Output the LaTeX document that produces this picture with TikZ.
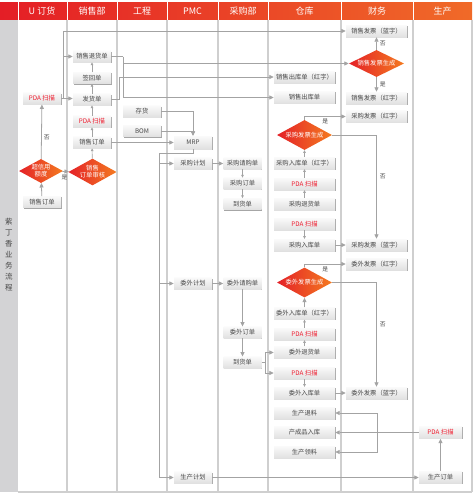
\documentclass[tikz,border=0pt]{standalone}
\usepackage{fontspec}
\newfontfamily\cjk{Noto Sans CJK SC}
\usetikzlibrary{arrows.meta,shapes.geometric,shadows}
\definecolor{hred}{HTML}{E41E26}
\definecolor{horange}{HTML}{F06A28}
\definecolor{dred}{HTML}{E42128}
\definecolor{dorange}{HTML}{F47A20}
\definecolor{pdared}{HTML}{EE1C2E}
\definecolor{lineg}{HTML}{A3A3A3}
\definecolor{laneg}{HTML}{CFCFCF}
\definecolor{bandg}{HTML}{D3D3D5}
\definecolor{txtg}{HTML}{474747}
\tikzset{
  box/.style={rectangle, minimum width=38pt, minimum height=11.5pt, inner sep=0pt,
    top color=white!96!gray, bottom color=gray!24, draw=none,
    font=\cjk\fontsize{6.3}{7}\selectfont, text=txtg,
    drop shadow={shadow xshift=0.9pt, shadow yshift=-0.9pt, opacity=0.35, fill=black}},
  wbox/.style={box, minimum width=61pt, minimum height=12pt},
  gbox/.style={box, minimum width=43pt, minimum height=12pt},
  pda/.style={text=pdared},
  dia/.style={diamond, shape aspect=1.8, inner sep=0pt, left color=dred, right color=dorange,
    text=white, align=center, font=\cjk\fontsize{6.3}{7}\selectfont},
  arr/.style={draw=lineg, line width=0.8pt, -{Triangle[length=4.5pt,width=4pt]}},
  sarr/.style={draw=lineg, line width=0.6pt, -{Triangle[length=2.6pt,width=2.6pt]}},
  ln/.style={draw=lineg, line width=0.8pt},
  lbl/.style={font=\cjk\fontsize{5.8}{6}\selectfont, text=txtg, inner sep=0pt},
  hdr/.style={font=\cjk\fontsize{9}{10}\selectfont, text=white, inner sep=0pt},
}
\begin{document}
\begin{tikzpicture}[x=1pt,y=-1pt]
\useasboundingbox (0,0) rectangle (473,493);
% header band
\shade[left color=hred, right color=horange] (0,2) rectangle (472,19.5);
\fill[bandg] (0,19.5) rectangle (18,492);
% lanes
\foreach \x in {67,117,167,218,268,341,413}{
  \draw[white, line width=0.9pt] (\x,2) -- (\x,19.5);
  \draw[laneg, line width=1.1pt] (\x,19.5) -- (\x,492);
}
\draw[white, line width=0.9pt] (18,2) -- (18,19.5);
\draw[laneg, line width=1.1pt] (472,19.5) -- (472,492);
\draw[laneg, line width=1.1pt] (18,492) -- (472,492);
% header labels
\node[hdr] (h1) at (42,11) {U 订货};
\node[hdr] (h2) at (92,11) {销售部};
\node[hdr] (h3) at (142,11) {工程};
\node[hdr] (h4) at (192.5,11) {PMC};
\node[hdr] (h5) at (243,11) {采购部};
\node[hdr] (h6) at (304.5,11) {仓库};
\node[hdr] (h7) at (377,11) {财务};
\node[hdr] (h8) at (442.5,11) {生产};
\node[font=\cjk\fontsize{7.5}{11}\selectfont, align=center, text=txtg, inner sep=0pt] (side) at (9,255) {紫\\丁\\香\\业\\务\\流\\程};

% U订货
\node[box,pda] (u_pda) at (42,98.5) {PDA 扫描};
\node[dia, minimum width=44pt, minimum height=24pt] (u_dia) at (41,171) {超信用\\额度};
\node[box] (u_order) at (42,202) {销售订单};
% 销售部
\node[box] (s_return) at (92,56.5) {销售退货单};
\node[box] (s_sign) at (92,78) {签回单};
\node[box] (s_ship) at (92,99.5) {发货单};
\node[box,pda] (s_pda) at (92,121.5) {PDA 扫描};
\node[box] (s_order) at (92,142.5) {销售订单};
\node[dia, minimum width=45pt, minimum height=25pt] (s_dia) at (92.5,172) {销售\\订单审核};
% 工程
\node[box] (e_inv) at (142,111.5) {存货};
\node[box] (e_bom) at (142,131) {BOM};
% PMC
\node[box, minimum height=13pt] (mrp) at (193,142.5) {MRP};
\node[box] (p_plan) at (193,163.5) {采购计划};
\node[box] (w_plan) at (193,283.5) {委外计划};
\node[box] (m_plan) at (193,477.5) {生产计划};
% 采购部
\node[box] (p_req) at (242.5,163.5) {采购请购单};
\node[box] (p_po) at (242.5,183.5) {采购订单};
\node[box] (p_arr) at (242.5,204) {到货单};
\node[box] (w_req) at (242.5,283.5) {委外请购单};
\node[box] (w_po) at (242.5,332.5) {委外订单};
\node[box] (w_arr) at (242.5,362.5) {到货单};
% 仓库
\node[wbox] (c_sored) at (304.5,77) {销售出库单（红字）};
\node[wbox] (c_so) at (304.5,97.5) {销售出库单};
\node[dia, minimum width=55pt, minimum height=30pt] (c_pdia) at (304.5,135) {采购发票生成};
\node[wbox] (c_pinred) at (304.5,163) {采购入库单（红字）};
\node[wbox,pda] (c_pda1) at (304.5,184) {PDA 扫描};
\node[wbox] (c_pret) at (304.5,204) {采购退货单};
\node[wbox,pda] (c_pda2) at (304.5,224) {PDA 扫描};
\node[wbox] (c_pin) at (304.5,245) {采购入库单};
\node[dia, minimum width=55pt, minimum height=30pt] (c_wdia) at (304.5,282.5) {委外发票生成};
\node[wbox] (c_winred) at (304.5,313.5) {委外入库单（红字）};
\node[wbox,pda] (c_pda3) at (304.5,334) {PDA 扫描};
\node[wbox] (c_wret) at (304.5,352.5) {委外退货单};
\node[wbox,pda] (c_pda4) at (304.5,373) {PDA 扫描};
\node[wbox] (c_win) at (304.5,393) {委外入库单};
\node[wbox] (c_back) at (304.5,413) {生产退料};
\node[wbox] (c_fin) at (304.5,432.5) {产成品入库};
\node[wbox] (c_pick) at (304.5,452) {生产领料};
% 财务
\node[wbox] (f_sblue) at (376.5,31) {销售发票（蓝字）};
\node[dia, minimum width=55pt, minimum height=27pt] (f_sdia) at (376.5,63.5) {销售发票生成};
\node[wbox] (f_sred) at (376.5,98) {销售发票（红字）};
\node[wbox] (f_pred) at (376.5,116.5) {采购发票（红字）};
\node[wbox] (f_pblue) at (376.5,245) {采购发票（蓝字）};
\node[wbox] (f_wred) at (376.5,264) {委外发票（红字）};
\node[wbox] (f_wblue) at (376.5,393) {委外发票（蓝字）};
% 生产
\node[gbox,pda] (g_pda) at (440.5,432.5) {PDA 扫描};
\node[gbox] (g_order) at (440.5,477) {生产订单};

% coordinates
\coordinate (j1) at (63,98.5);
\coordinate (j2) at (123,56.5);
\coordinate (j3) at (119,99.5);
\coordinate (j4) at (159,153);
\coordinate (j5) at (265,362.5);
\coordinate (j6) at (377,432.5);

% U订货 connectors
\draw[arr] (u_order) -- (u_dia);
\draw[arr] (u_dia) -- node[lbl, right=2pt, pos=0.4] (l1) {否} (u_pda);
\draw[arr] (u_dia) -- node[lbl, below=3pt, pos=0.3] (l2) {是} (s_dia);
\draw[arr] (u_pda.east) -- (u_pda.east -| s_ship.west);
\draw[arr] (j1) |- (f_sblue.west);
\draw[arr] (j1) |- (s_return.west);
% 销售部 chain
\draw[sarr] (s_dia) -- (s_order);
\draw[sarr] (s_order) -- (s_pda);
\draw[sarr] (s_pda) -- (s_ship);
\draw[sarr] (s_ship) -- (s_sign);
\draw[sarr] (s_sign) -- (s_return);
\draw[ln] (s_return.east) -- (j2);
\draw[arr] (j2) |- (c_so.west);
\draw[arr] (j2 |- f_sdia.west) -- (f_sdia.west);
\draw[ln] (s_ship.east) -- (j3);
\draw[arr] (j3) |- (c_sored.west);
% 工程 / PMC
\draw[arr] (e_inv.east) -| (mrp.north);
\draw[arr] (e_bom.east) -| (mrp.north);
\draw[arr] (s_order.east) -- (s_order.east -| mrp.west);
\draw[ln] (mrp.south) |- (j4);
\draw[arr] (j4) |- (m_plan.west);
\draw[arr] (j4 |- p_plan.west) -- (p_plan.west);
\draw[arr] (j4 |- w_plan.west) -- (w_plan.west);
% 采购部
\draw[arr] (p_plan) -- (p_req);
\draw[sarr] (p_req) -- (p_po);
\draw[sarr] (p_po) -- (p_arr);
\draw[arr] (w_plan) -- (w_req);
\draw[arr] (w_req) -- (w_po);
\draw[arr] (w_po) -- (w_arr);
\draw[ln] (w_arr.east) -- (j5);
\draw[arr] (j5) |- (c_wret.west);
\draw[arr] (j5) |- (c_pda4.west);
% 仓库 purchase
\draw[sarr] (c_pret) -- (c_pda1);
\draw[sarr] (c_pda1) -- (c_pinred);
\draw[sarr] (c_pinred) -- (c_pdia);
\draw[sarr] (c_pda2) -- (c_pin);
\draw[arr] (c_pin) -- (f_pblue);
\draw[arr] (c_pdia.north) |- node[lbl, pos=0.75, below=2pt] (l3) {是} (f_pred.west);
\draw[arr] (c_pdia.east) -| node[lbl, pos=0.7, right=3pt] (l4) {否} (f_pblue.north);
% 仓库 outsourcing
\draw[sarr] (c_wret) -- (c_pda3);
\draw[sarr] (c_pda3) -- (c_winred);
\draw[arr] (c_winred) -- (c_wdia);
\draw[sarr] (c_pda4) -- (c_win);
\draw[arr] (c_win) -- (f_wblue);
\draw[arr] (c_wdia.north) |- node[lbl, pos=0.75, below=2pt] (l5) {是} (f_wred.west);
\draw[arr] (c_wdia.east) -| node[lbl, pos=0.7, right=3pt] (l6) {否} (f_wblue.north);
% 财务 sales
\draw[arr] (f_sdia) -- node[lbl, right=3pt] (l7) {否} (f_sblue);
\draw[arr] (f_sdia) -- node[lbl, right=3pt] (l8) {是} (f_sred);
% 生产
\draw[arr] (m_plan.east) -- (m_plan.east -| g_order.west);
\draw[arr] (g_order) -- (g_pda);
\draw[arr] (g_pda.west) -- (c_fin.east);
\draw[arr] (j6) |- (c_back.east);
\draw[arr] (j6) |- (c_pick.east);
\end{tikzpicture}
\end{document}
